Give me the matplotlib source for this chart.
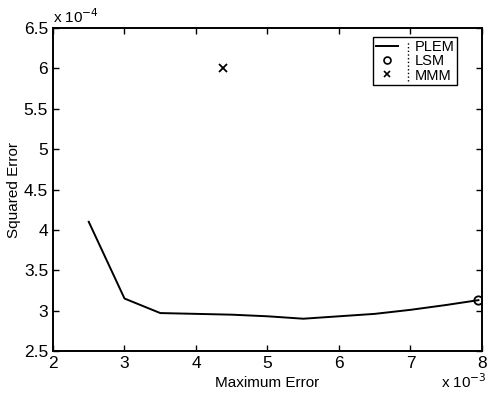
import matplotlib.pyplot as plt
from matplotlib.lines import Line2D

plt.rcParams['font.family'] = ['Liberation Sans', 'DejaVu Sans']

# PLEM curve (x in 1e-3, y in 1e-4)
plem_x = [2.5, 3.0, 3.5, 4.0, 4.5, 5.0, 5.5, 6.0, 6.5, 7.0, 7.5, 7.95]
plem_y = [4.10, 3.15, 2.97, 2.96, 2.95, 2.93, 2.90, 2.93, 2.96, 3.01, 3.07, 3.13]

# single-point methods
lsm_x, lsm_y = [7.95], [3.13]
mmm_x, mmm_y = [4.38], [6.0]

xticks = [2, 3, 4, 5, 6, 7, 8]
yticks = [2.5, 3, 3.5, 4, 4.5, 5, 5.5, 6, 6.5]

fig = plt.figure(figsize=(4.88, 3.96), dpi=100)
ax = fig.add_axes([0.1086, 0.1136, 0.8791, 0.8157])

ax.plot(plem_x, plem_y, color='black', lw=1.4, label='PLEM')
ax.plot(lsm_x, lsm_y, ls='none', marker='o', ms=6, mfc='none', mec='black', mew=1.3, label='LSM')
ax.plot(mmm_x, mmm_y, ls='none', marker='x', ms=6, color='black', mew=1.3, label='MMM')

ax.set_xlim(2, 8)
ax.set_ylim(2.5, 6.5)
ax.set_xticks(xticks)
ax.set_xticklabels([str(v) for v in xticks])
ax.set_yticks(yticks)
ax.set_yticklabels([('%g' % v) for v in yticks])
ax.tick_params(direction='in', top=True, right=True, length=4, width=1, labelsize=12.5)
for s in ax.spines.values():
    s.set_linewidth(1.4)

ax.set_xlabel('Maximum Error', fontsize=11, labelpad=4)
ax.set_ylabel('Squared Error', fontsize=11, labelpad=2)

ax.text(0.0, 1.005, r'x 10$^{-4}$', transform=ax.transAxes, fontsize=11, ha='left', va='bottom')
fig.text(0.998, 0.035, r'x 10$^{-3}$', fontsize=11, ha='right', va='center')

handles = [Line2D([], [], color='black', lw=1.4),
           Line2D([], [], ls='none', marker='o', ms=5, mfc='none', mec='black', mew=1.2),
           Line2D([], [], ls='none', marker='x', ms=5, color='black', mew=1.2)]
leg = ax.legend(handles, ['PLEM', 'LSM', 'MMM'], loc='upper right',
                bbox_to_anchor=(0.942, 0.972), fontsize=10.5, labelspacing=0.02,
                handlelength=1.5, handletextpad=1.15, borderpad=0.2, borderaxespad=0,
                fancybox=False, framealpha=1, edgecolor='black')
leg.get_frame().set_linewidth(1.0)

# dotted separator between symbols and names, placed from the drawn legend
fig.canvas.draw()
inv = ax.transAxes.inverted()
txt_bb = [t.get_window_extent() for t in leg.get_texts()]
fr = leg.get_frame().get_window_extent()
sep_x = min(b.x0 for b in txt_bb) - 6
(x0, y0), (_, y1) = inv.transform([(sep_x, fr.y0 + 4), (sep_x, fr.y1 - 4)])
ax.plot([x0, x0], [y0, y1], transform=ax.transAxes, color='black',
        ls=':', lw=1.0, zorder=6)

fig.savefig('out.png', dpi=100)
